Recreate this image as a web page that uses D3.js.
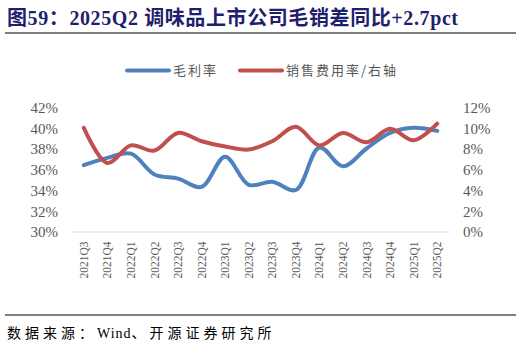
<!DOCTYPE html>
<html><head><meta charset="utf-8">
<script src="https://cdn.jsdelivr.net/npm/d3@7"></script>
<style>body{margin:0;background:#fff;}svg{display:block;}</style>
</head><body>
<script>
const categories = ["2021Q3","2021Q4","2022Q1","2022Q2","2022Q3","2022Q4","2023Q1","2023Q2","2023Q3","2023Q4","2024Q1","2024Q2","2024Q3","2024Q4","2025Q1","2025Q2"];
const grossMargin = [36.4,37.1,37.5,35.5,35.1,34.3,37.2,34.5,34.8,34.0,38.1,36.3,38.0,39.5,40.0,39.7];
const salesExpenseRatio = [10.0,6.6,8.3,7.8,9.5,8.7,8.2,7.9,8.7,10.1,8.3,9.5,8.6,9.9,8.8,10.4];
const leftTicks = [30,32,34,36,38,40,42];
const rightTicks = [0,2,4,6,8,10,12];
const seriesNames = ["毛利率","销售费用率/右轴"];
const colors = ["#4f81bd","#c0504d"];

const W = 522, H = 345;
const svg = d3.select("body").append("svg").attr("width", W).attr("height", H);

// title
svg.append("text").attr("x", 7).attr("y", 25)
  .attr("font-family", "'Liberation Serif','Noto Sans CJK SC',serif")
  .attr("font-weight", "bold").attr("font-size", 20).attr("letter-spacing", 0.6).attr("fill", "#1f1f6e")
  .text("图59：2025Q2 调味品上市公司毛销差同比+2.7pct");
svg.append("line").attr("x1", 5).attr("x2", 516).attr("y1", 33).attr("y2", 33)
  .attr("stroke", "#000").attr("stroke-width", 1);

// footer
svg.append("line").attr("x1", 5).attr("x2", 516).attr("y1", 315).attr("y2", 315)
  .attr("stroke", "#000").attr("stroke-width", 1);
const foot = svg.append("text").attr("x", 7).attr("y", 338)
  .attr("font-family", "'Liberation Serif','Noto Sans CJK SC',serif")
  .attr("font-size", 14).attr("fill", "#000");
foot.append("tspan").attr("letter-spacing", 4).text("数据来源：");
foot.append("tspan").attr("letter-spacing", 1).text("Wind");
foot.append("tspan").attr("letter-spacing", 4).text("、开源证券研究所");

const x = d3.scaleBand().domain(categories).range([72, 449]);
const yL = d3.scaleLinear().domain([30, 42]).range([231.5, 107]);
const yR = d3.scaleLinear().domain([0, 12]).range([231.5, 107]);

// left axis
const axL = d3.axisLeft(yL).tickValues(leftTicks).tickSize(0).tickPadding(0).tickFormat(d => d + "%");
const gL = svg.append("g").attr("transform", "translate(58,0)").call(axL);
gL.select(".domain").remove();
gL.selectAll("text").attr("font-family", "'Liberation Serif',serif").attr("font-size", 15).attr("fill", "#595959").attr("dy", "0.35em");

// right axis
const axR = d3.axisRight(yR).tickValues(rightTicks).tickSize(0).tickPadding(0).tickFormat(d => d + "%");
const gR = svg.append("g").attr("transform", "translate(463,0)").call(axR);
gR.select(".domain").remove();
gR.selectAll("text").attr("font-family", "'Liberation Serif',serif").attr("font-size", 15).attr("fill", "#595959").attr("dy", "0.35em");

// x axis
const axB = d3.axisBottom(x).tickSize(0).tickPadding(0);
const gB = svg.append("g").attr("transform", "translate(0,231.5)").call(axB);
gB.select(".domain").attr("stroke", "#d9d9d9").attr("stroke-width", 1.2);
gB.selectAll("text")
  .attr("font-family", "'Liberation Serif',serif").attr("font-size", 11.5).attr("fill", "#595959")
  .attr("text-anchor", "end").attr("dy", "0.35em")
  .attr("transform", "translate(0,10) rotate(-90)").attr("x", 0).attr("y", 0);

// lines
const cx = d => x(d) + x.bandwidth() / 2;
const lineL = d3.line().x((d, i) => cx(categories[i])).y(d => yL(d)).curve(d3.curveCatmullRom.alpha(0.5));
const lineR = d3.line().x((d, i) => cx(categories[i])).y(d => yR(d)).curve(d3.curveCatmullRom.alpha(0.5));
svg.append("path").datum(grossMargin).attr("d", lineL).attr("fill", "none")
  .attr("stroke", colors[0]).attr("stroke-width", 4).attr("stroke-linecap", "round");
svg.append("path").datum(salesExpenseRatio).attr("d", lineR).attr("fill", "none")
  .attr("stroke", colors[1]).attr("stroke-width", 4).attr("stroke-linecap", "round");

// legend
const legend = [{x1: 127, x2: 169, tx: 173}, {x1: 240, x2: 282, tx: 286}];
legend.forEach((l, i) => {
  svg.append("line").attr("x1", l.x1).attr("x2", l.x2).attr("y1", 70.5).attr("y2", 70.5)
    .attr("stroke", colors[i]).attr("stroke-width", 4).attr("stroke-linecap", "round");
  svg.append("text").attr("x", l.tx).attr("y", 70.5).attr("dy", "0.35em")
    .attr("font-family", "'Noto Sans CJK SC',sans-serif").attr("font-size", 13).attr("letter-spacing", 2).attr("fill", "#595959")
    .text(seriesNames[i]);
});
</script>
</body></html>
